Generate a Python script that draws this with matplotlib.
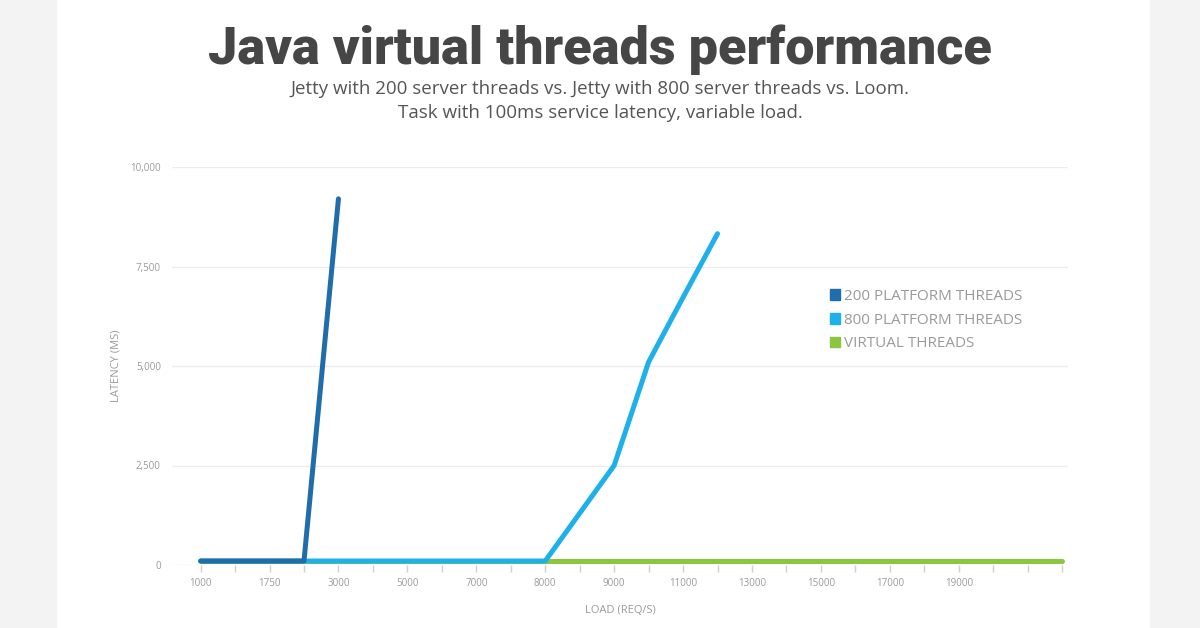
import numpy as np
import matplotlib
matplotlib.use("Agg")
import matplotlib.pyplot as plt
from matplotlib.patches import Patch, Rectangle

# load levels (req/s), plotted as evenly spaced categories
loads = ["1000", "1500", "1750", "2000", "3000", "4000", "5000", "6000", "7000",
         "7500", "8000", "8500", "9000", "10000", "11000", "12000", "13000",
         "14000", "15000", "16000", "17000", "18000", "19000", "20000", "21000",
         "22000"]
shown_labels = ["1000", "1750", "3000", "5000", "7000", "8000", "9000",
                "11000", "13000", "15000", "17000", "19000"]

# latency in ms
platform_200 = [100, 100, 100, 100, 9200] + [None] * 21
platform_800 = [100] * 11 + [1300, 2500, 5100, 6725, 8325] + [None] * 10
virtual = [100] * 26

series_names = ["200 PLATFORM THREADS", "800 PLATFORM THREADS", "VIRTUAL THREADS"]
colors = ["#1f6dab", "#1eb0ea", "#8cc63f"]

plt.rcParams["font.family"] = ["Open Sans", "DejaVu Sans"]

fig = plt.figure(figsize=(12, 6.28), dpi=100)
fig.patches.append(Rectangle((0, 0), 56 / 1200, 1, transform=fig.transFigure,
                             color="#f3f3f3", zorder=0))
fig.patches.append(Rectangle((1150 / 1200, 0), 50 / 1200, 1, transform=fig.transFigure,
                             color="#f3f3f3", zorder=0))

ax = fig.add_axes([172 / 1200, 1 - 565 / 628, 896 / 1200, 398 / 628])
ax.set_facecolor("none")

x = np.arange(len(loads))
y200 = np.array(platform_200, dtype=float)
y800 = np.array(platform_800, dtype=float)
yvt = np.array(virtual, dtype=float)

ax.plot(x, yvt, color=colors[2], lw=3.6, solid_capstyle="round", zorder=3, clip_on=False)
ax.plot(x, y800, color=colors[1], lw=3.6, solid_capstyle="round", zorder=4, clip_on=False)
ax.plot(x, y200, color=colors[0], lw=3.6, solid_capstyle="round", zorder=5, clip_on=False)

ax.set_xlim(-0.83, 25.17)
ax.set_ylim(0, 10000)
ax.set_yticks([0, 2500, 5000, 7500, 10000])
ax.set_yticklabels(["0", "2,500", "5,000", "7,500", "10,000"])
ax.set_xticks(x)
ax.set_xticklabels([lab if lab in shown_labels else "" for lab in loads])

ax.grid(axis="y", color="#ececec", lw=1)
ax.set_axisbelow(True)
for s in ax.spines.values():
    s.set_visible(False)

ax.tick_params(axis="y", length=0, pad=8, labelsize=7, labelcolor="#9a9a9a")
ax.tick_params(axis="x", length=5, width=1, color="#d0d0d0", pad=4,
               labelsize=7, labelcolor="#9a9a9a")

ax.set_xlabel("LOAD (REQ/S)", fontsize=8, color="#9a9a9a")
ax.xaxis.set_label_coords(0.5, -0.10)
ax.set_ylabel("LATENCY (MS)", fontsize=8, color="#9a9a9a")
ax.yaxis.set_label_coords(-0.056, 0.5)

handles = [Patch(color=c) for c in colors]
leg = fig.legend(handles, series_names, loc="upper left",
                 bbox_to_anchor=(816 / 1200, 1 - 275 / 628), frameon=False,
                 handlelength=0.7, handleheight=0.7, handletextpad=0.25,
                 labelspacing=0.58, fontsize=11)
for t in leg.get_texts():
    t.set_color("#9a9a9a")

fig.text(0.5, 1 - 64 / 628, "Java virtual threads performance", ha="center", va="baseline",
         fontsize=37.5, fontweight="heavy", color="#464646",
         family=["Roboto", "DejaVu Sans"])
fig.text(0.5, 1 - 101 / 628,
         "Jetty with 200 server threads vs. Jetty with 800 server threads vs. Loom.\n"
         "Task with 100ms service latency, variable load.",
         ha="center", va="center", fontsize=13.5, color="#555555", linespacing=1.38)

fig.savefig("out.png", dpi=100)
